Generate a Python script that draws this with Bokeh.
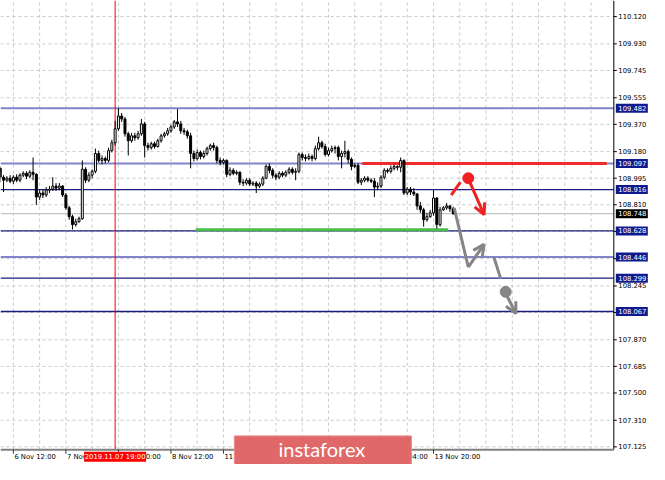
from bokeh.plotting import figure
from bokeh.models import ColumnDataSource, Arrow, OpenHead, Range1d
from bokeh.core.properties import value
from bokeh.embed import file_html
from bokeh.resources import INLINE

# ---------------- data (USD/JPY H1, bar 0 = 6 Nov 12:00) ----------------
first_bar = -6
opens = [109.043, 109.050, 109.064, 109.002, 108.981, 108.995,
         108.974, 109.002, 108.981, 109.016, 109.029, 109.009, 109.036, 109.022, 108.864, 108.892,
         108.878, 108.912, 108.919, 108.940, 108.926, 108.940, 108.878, 108.789, 108.727, 108.672,
         108.692, 108.713, 109.057, 108.981, 109.016, 109.043, 109.167, 109.119, 109.132, 109.119,
         109.187, 109.242, 109.339, 109.428, 109.407, 109.304, 109.256, 109.290, 109.277, 109.304,
         109.373, 109.222, 109.208, 109.235, 109.215, 109.256, 109.290, 109.304, 109.325, 109.352,
         109.387, 109.373, 109.325, 109.318, 109.290, 109.167, 109.132, 109.174, 109.146, 109.167,
         109.201, 109.222, 109.208, 109.119, 109.105, 109.119, 109.022, 109.050, 109.029, 109.036,
         108.967, 108.961, 108.981, 108.954, 108.961, 108.940, 108.954, 108.995, 109.077, 109.050,
         109.016, 109.002, 109.029, 109.016, 109.036, 109.057, 109.036, 109.043, 109.160, 109.139,
         109.132, 109.146, 109.132, 109.201, 109.242, 109.215, 109.160, 109.187, 109.201, 109.208,
         109.146, 109.167, 109.180, 109.126, 109.077, 109.084, 108.967, 108.981, 108.995, 108.981,
         108.974, 108.933, 108.940, 109.002, 109.050, 109.043, 109.064, 109.077, 109.071, 109.119,
         108.892, 108.919, 108.899, 108.885, 108.802, 108.775, 108.706, 108.727, 108.754, 108.857,
         108.672, 108.775, 108.789, 108.802, 108.782]
highs = [109.071, 109.084, 109.077, 109.016, 109.009, 109.016,
         109.016, 109.022, 109.029, 109.043, 109.043, 109.050, 109.139, 109.029, 108.912, 108.919,
         108.933, 108.940, 109.002, 108.961, 108.961, 108.947, 108.892, 108.802, 108.741, 108.713,
         108.727, 109.119, 109.071, 109.036, 109.057, 109.201, 109.187, 109.153, 109.146, 109.208,
         109.263, 109.394, 109.483, 109.449, 109.421, 109.318, 109.311, 109.311, 109.325, 109.407,
         109.387, 109.242, 109.249, 109.249, 109.270, 109.304, 109.318, 109.345, 109.366, 109.400,
         109.476, 109.394, 109.345, 109.332, 109.311, 109.187, 109.194, 109.187, 109.187, 109.215,
         109.235, 109.242, 109.222, 109.139, 109.132, 109.126, 109.071, 109.064, 109.050, 109.043,
         108.988, 108.995, 108.995, 108.974, 108.974, 108.967, 109.009, 109.091, 109.098, 109.064,
         109.029, 109.043, 109.043, 109.050, 109.071, 109.071, 109.064, 109.174, 109.174, 109.160,
         109.167, 109.160, 109.222, 109.284, 109.256, 109.235, 109.208, 109.222, 109.222, 109.222,
         109.187, 109.256, 109.194, 109.139, 109.098, 109.098, 108.995, 109.009, 109.009, 108.995,
         108.995, 108.967, 109.016, 109.064, 109.064, 109.084, 109.091, 109.084, 109.139, 109.126,
         108.933, 108.933, 108.926, 108.892, 108.830, 108.789, 108.754, 108.775, 108.912, 108.864,
         108.796, 108.802, 108.823, 108.809, 108.796]
lows = [109.029, 109.043, 108.967, 108.899, 108.967, 108.961,
        108.954, 108.967, 108.967, 109.002, 108.988, 108.995, 108.981, 108.809, 108.844, 108.857,
        108.864, 108.892, 108.906, 108.906, 108.912, 108.864, 108.775, 108.706, 108.638, 108.658,
        108.686, 108.706, 108.961, 108.967, 108.995, 109.029, 109.105, 109.091, 109.098, 109.105,
        109.174, 109.222, 109.325, 109.387, 109.284, 109.153, 109.242, 109.256, 109.263, 109.290,
        109.139, 109.187, 109.194, 109.201, 109.208, 109.242, 109.277, 109.290, 109.311, 109.339,
        109.352, 109.304, 109.297, 109.270, 109.064, 109.112, 109.119, 109.126, 109.132, 109.153,
        109.187, 109.187, 109.098, 109.084, 109.091, 109.002, 109.009, 109.016, 109.016, 108.947,
        108.940, 108.947, 108.940, 108.940, 108.892, 108.926, 108.940, 108.988, 109.029, 108.995,
        108.981, 108.988, 109.002, 109.002, 109.022, 109.022, 108.981, 109.029, 109.119, 109.112,
        109.119, 109.112, 109.119, 109.187, 109.201, 109.146, 109.146, 109.174, 109.167, 109.119,
        109.064, 109.139, 109.098, 109.050, 109.064, 108.954, 108.947, 108.967, 108.967, 108.961,
        108.864, 108.912, 108.926, 108.988, 109.029, 109.029, 109.050, 109.050, 109.036, 108.878,
        108.878, 108.878, 108.871, 108.775, 108.754, 108.658, 108.692, 108.720, 108.734, 108.644,
        108.658, 108.768, 108.775, 108.761, 108.741]
closes = [109.050, 109.064, 109.002, 108.981, 108.995, 108.974,
          109.002, 108.981, 109.016, 109.029, 109.009, 109.036, 109.022, 108.864, 108.892, 108.878,
          108.912, 108.919, 108.940, 108.926, 108.940, 108.878, 108.789, 108.727, 108.672, 108.692,
          108.713, 109.057, 108.981, 109.016, 109.043, 109.167, 109.119, 109.132, 109.119, 109.187,
          109.242, 109.339, 109.428, 109.407, 109.304, 109.256, 109.290, 109.277, 109.304, 109.373,
          109.222, 109.208, 109.235, 109.215, 109.256, 109.290, 109.304, 109.325, 109.352, 109.387,
          109.373, 109.325, 109.318, 109.290, 109.167, 109.132, 109.174, 109.146, 109.167, 109.201,
          109.222, 109.208, 109.119, 109.105, 109.119, 109.022, 109.050, 109.029, 109.036, 108.967,
          108.961, 108.981, 108.954, 108.961, 108.940, 108.954, 108.995, 109.077, 109.050, 109.016,
          109.002, 109.029, 109.016, 109.036, 109.057, 109.036, 109.043, 109.160, 109.139, 109.132,
          109.146, 109.132, 109.201, 109.242, 109.215, 109.160, 109.187, 109.201, 109.208, 109.146,
          109.167, 109.180, 109.126, 109.077, 109.084, 108.967, 108.981, 108.995, 108.981, 108.974,
          108.933, 108.940, 109.002, 109.050, 109.043, 109.064, 109.077, 109.071, 109.119, 108.892,
          108.919, 108.899, 108.885, 108.802, 108.775, 108.706, 108.727, 108.754, 108.857, 108.672,
          108.775, 108.789, 108.802, 108.782, 108.748]
bars = list(range(first_bar, first_bar + len(closes)))

date_ticks = [0, 16, 32, 48, 64, 80, 96, 112, 128]
date_labels = ["6 Nov 12:00", "7 Nov 04:00", "7 Nov 20:00", "8 Nov 12:00", "11 Nov 04:00",
               "11 Nov 20:00", "12 Nov 12:00", "13 Nov 04:00", "13 Nov 20:00"]
price_ticks = [110.120, 109.930, 109.745, 109.555, 109.370, 109.180, 108.995, 108.810, 108.625,
               108.435, 108.245, 108.060, 107.870, 107.685, 107.500, 107.310, 107.125]
price_tick_labels = ["110.120", "109.930", "109.745", "109.555", "109.370", "109.180", "108.995",
                     "108.810", "108.625", "108.435", "108.245", "108.060", "107.870", "107.685",
                     "107.500", "107.310", "107.125"]

cursor_bar = 31
cursor_text = "2019.11.07 19:00"

level_prices = [109.482, 109.097, 108.916, 108.748, 108.628, 108.446, 108.299, 108.067]
level_kind = ["major", "major", "minor", "bid", "minor", "major", "minor", "minor"]

resist_x0, resist_x1, resist_y = [106.3], [180.8], [109.097]
support_x0, support_x1, support_y = [55.5], [132.5], [108.637]

red_path_x, red_path_y = [133.4, 136.2], [108.878, 108.967]
red_dot_x, red_dot_y = [138.6], [108.995]
red_arrow = [139.2, 108.961, 143.4, 108.741]
gray_path_x, gray_path_y = [134.3, 138.6], [108.789, 108.376]
gray_arrow1 = [138.6, 108.376, 143.4, 108.534]
gray_path2_x, gray_path2_y = [146.4, 148.5], [108.445, 108.294]
gray_dot_x, gray_dot_y = [150.0], [108.204]
gray_arrow2 = [150.4, 108.175, 153.1, 108.053]

# ---------------- layout constants ----------------
W, H = 649, 464
X0, X1 = -3.9245, 193.81         # visible bar range
Y0, Y1 = 107.002, 110.232        # visible price range
PX_BAR = W / (X1 - X0)           # pixels per bar
PX_PRICE = H / (Y1 - Y0)         # pixels per price unit
AXIS_X = 182.94                  # right edge of price area (bars)
AXIS_Y = 107.105                 # bottom edge of price area (price)
FONT = "DejaVu Sans"
FS = "6.8px"
kind_color = {"major": "#8383cc", "minor": "#1c1c80", "bid": "#c4c4c4"}
kind_width = {"major": 2, "minor": 1.3, "bid": 1.3}
box_color = {"major": "#0e1a8e", "minor": "#0e1a8e", "bid": "#000000"}


def bx(px):   # pixel offset -> bars
    return px / PX_BAR


def py(px):   # pixel offset -> price
    return px / PX_PRICE


p = figure(width=W, height=H, output_backend="svg", toolbar_location=None,
           x_range=Range1d(X0, X1), y_range=Range1d(Y0, Y1),
           x_axis_location=None, y_axis_location=None, min_border=0)
p.outline_line_color = None
p.background_fill_color = "white"
p.border_fill_color = "white"
p.grid.visible = False

# dashed grid inside the price area
grid_x = list(range(0, int(AXIS_X), 8))
p.segment(x0=grid_x, x1=grid_x, y0=[AXIS_Y] * len(grid_x), y1=[Y1] * len(grid_x),
          line_color="#c8c8c8", line_dash="3 3", line_width=1)
p.segment(x0=[X0] * len(price_ticks), x1=[AXIS_X] * len(price_ticks), y0=price_ticks, y1=price_ticks,
          line_color="#c8c8c8", line_dash="3 3", line_width=1)

# level lines
p.segment(x0=[X0] * len(level_prices), x1=[AXIS_X] * len(level_prices), y0=level_prices, y1=level_prices,
          line_color=[kind_color[k] for k in level_kind], line_width=[kind_width[k] for k in level_kind])
p.segment(x0=resist_x0, x1=resist_x1, y0=resist_y, y1=resist_y, line_color="#f22a2a", line_width=3)
p.segment(x0=support_x0, x1=support_x1, y0=support_y, y1=support_y, line_color="#48bd48", line_width=3)

# cursor line
p.segment(x0=[cursor_bar], x1=[cursor_bar], y0=[AXIS_Y], y1=[Y1], line_color="#ff0000", line_width=1)

# candles
tops = [max(o, c) for o, c in zip(opens, closes)]
bots = [min(o, c) for o, c in zip(opens, closes)]
fills = ["white" if c > o else "black" for o, c in zip(opens, closes)]
src = ColumnDataSource(dict(x=bars, h=highs, l=lows, top=tops, bottom=bots, fill=fills))
p.segment(x0="x", x1="x", y0="l", y1="h", source=src, line_color="black", line_width=1)
p.vbar(x="x", width=0.6, top="top", bottom="bottom", fill_color="fill", line_color="black",
       line_width=1, source=src)

# forecast arrows
RED, GRAY = "#ee2222", "#858585"
p.line(red_path_x, red_path_y, line_color=RED, line_width=3)
p.scatter(red_dot_x, red_dot_y, size=11, color=RED)
p.add_layout(Arrow(x_start=red_arrow[0], y_start=red_arrow[1], x_end=red_arrow[2], y_end=red_arrow[3],
                   line_color=RED, line_width=3, end=OpenHead(size=11, line_color=RED, line_width=3)))
p.line(gray_path_x, gray_path_y, line_color=GRAY, line_width=3)
p.add_layout(Arrow(x_start=gray_arrow1[0], y_start=gray_arrow1[1], x_end=gray_arrow1[2], y_end=gray_arrow1[3],
                   line_color=GRAY, line_width=3, end=OpenHead(size=11, line_color=GRAY, line_width=3)))
p.line(gray_path2_x, gray_path2_y, line_color=GRAY, line_width=3)
p.scatter(gray_dot_x, gray_dot_y, size=11, color=GRAY)
p.add_layout(Arrow(x_start=gray_arrow2[0], y_start=gray_arrow2[1], x_end=gray_arrow2[2], y_end=gray_arrow2[3],
                   line_color=GRAY, line_width=3, end=OpenHead(size=11, line_color=GRAY, line_width=3)))

# ---- price axis (right) ----
p.segment(x0=[AXIS_X], x1=[AXIS_X], y0=[AXIS_Y], y1=[Y1], line_color="black", line_width=1)
p.segment(x0=[AXIS_X] * len(price_ticks), x1=[AXIS_X + bx(3)] * len(price_ticks),
          y0=price_ticks, y1=price_ticks, line_color="black", line_width=1)
p.text(x=[AXIS_X + bx(4.5)] * len(price_ticks), y=price_ticks, text=price_tick_labels,
       text_font=value(FONT), text_font_size=FS, text_color="black",
       text_align="left", text_baseline="middle")

# ---- time axis (bottom) ----
p.segment(x0=[X0], x1=[AXIS_X], y0=[AXIS_Y], y1=[AXIS_Y], line_color="#808080", line_width=2)
p.segment(x0=date_ticks, x1=date_ticks, y0=[AXIS_Y] * len(date_ticks),
          y1=[AXIS_Y - py(4)] * len(date_ticks), line_color="#333333", line_width=1)
p.text(x=[t + bx(1) for t in date_ticks], y=[AXIS_Y - py(7)] * len(date_ticks), text=date_labels,
       text_font=value(FONT), text_font_size=FS, text_color="black",
       text_align="left", text_baseline="middle")

# price boxes on the axis
p.rect(x=[AXIS_X + bx(18)] * len(level_prices), y=level_prices, width=32, height=9,
       width_units="screen", height_units="screen",
       fill_color=[box_color[k] for k in level_kind], line_color=None)
p.text(x=[AXIS_X + bx(4.5)] * len(level_prices), y=level_prices, text=[f"{v:.3f}" for v in level_prices],
       text_font=value(FONT), text_font_size=FS, text_color="white",
       text_align="left", text_baseline="middle")

# cursor date label
p.rect(x=[cursor_bar], y=[AXIS_Y - py(7)], width=62, height=10, width_units="screen",
       height_units="screen", fill_color="#ff0000", line_color=None)
p.text(x=[cursor_bar], y=[AXIS_Y - py(7)], text=[cursor_text], text_font=value(FONT),
       text_font_size=FS, text_color="white", text_align="center", text_baseline="middle")

# logo
logo_l, logo_r = 67.32, 121.27
logo_t, logo_b = 107.201, 107.002
p.quad(left=[logo_l], right=[logo_r], top=[logo_t], bottom=[logo_b],
       fill_color="#e06868", line_color="#ea8c8c", line_width=1)
p.text(x=[(logo_l + logo_r) / 2 - bx(1)], y=[(logo_t + logo_b) / 2 + py(1)], text=["instaforex"],
       text_font=value("Lato"), text_font_size="20px", text_color="white",
       text_align="center", text_baseline="middle")

open("out.html", "w").write(file_html(p, INLINE))
